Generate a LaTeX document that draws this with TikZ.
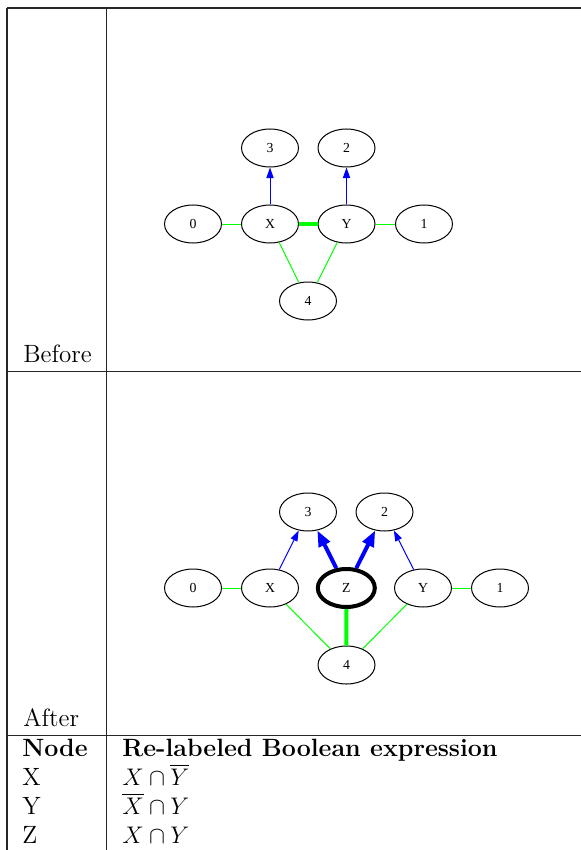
\documentclass[tikz,border=0pt]{standalone}
\usepackage{fontspec}
\newfontfamily\gvfont{Liberation Serif}
\usetikzlibrary{shapes.geometric,arrows.meta}
\begin{document}
\begin{tikzpicture}[x=0.5pt,y=-0.5pt,
  gv/.style={ellipse,draw,line width=0.5pt,minimum width=28.5pt,minimum height=19pt,inner sep=0pt,font=\gvfont\fontsize{6.9}{8}\selectfont},
  gvbold/.style={gv,line width=2pt},
  gl/.style={draw=green,line width=0.5pt},
  gt/.style={draw=green,line width=2pt},
  ba/.style={draw=blue,line width=0.5pt,-{Triangle[length=5.3pt,width=3.6pt]},blue},
  bt/.style={draw=blue,line width=2pt,-{Triangle[length=8pt,width=6pt]},blue},
  tl/.style={line width=0.65pt,draw=black!85},
  txt/.style={anchor=base west,inner sep=0pt,font=\fontsize{12.5}{15}\selectfont}]
\useasboundingbox (0,0) rectangle (581,850);
% table rules
\coordinate (tl0) at (7,8);
\coordinate (tr0) at (581,8);
\coordinate (tl1) at (7,371.5);
\coordinate (tr1) at (581,371.5);
\coordinate (tl2) at (7,735.5);
\coordinate (tr2) at (581,735.5);
\coordinate (lb) at (7,850);
\coordinate (mt) at (106.5,8);
\coordinate (mb) at (106.5,850);
\draw[tl] (tl0) -- (tr0);
\draw[tl] (tl1) -- (tr1);
\draw[tl] (tl2) -- (tr2);
\draw[tl] (tl0) -- (lb);
\draw[tl] (mt) -- (mb);
% texts
\node[txt] (before) at (23,362) {Before};
\node[txt] (after) at (23,726) {After};
\node[txt] (hnode) at (22,756) {\bfseries Node};
\node[txt] (hexpr) at (122,756) {\bfseries Re-labeled Boolean expression};
\node[txt] (rx) at (22,785) {X};
\node[txt] (ex) at (122,785) {$X\cap\overline{Y}$};
\node[txt] (ry) at (22,814) {Y};
\node[txt] (ey) at (122,814) {$\overline{X}\cap Y$};
\node[txt] (rz) at (22,843) {Z};
\node[txt] (ez) at (122,843) {$X\cap Y$};
% before graph
\node[gv] (b3) at (270,148) {3};
\node[gv] (b2) at (346.5,148) {2};
\node[gv] (b0) at (193,224) {0};
\node[gv] (bX) at (270,224) {X};
\node[gv] (bY) at (346.5,224) {Y};
\node[gv] (b1) at (424,224) {1};
\node[gv] (b4) at (308,301) {4};
\draw[gl] (b0) -- (bX);
\draw[gt] (bX) -- (bY);
\draw[gl] (bY) -- (b1);
\draw[ba] (bX) -- (b3);
\draw[ba] (bY) -- (b2);
\draw[gl] (bX) -- (b4);
\draw[gl] (bY) -- (b4);
% after graph
\node[gv] (a3) at (308,512) {3};
\node[gv] (a2) at (384.5,512) {2};
\node[gv] (a0) at (193,588) {0};
\node[gv] (aX) at (270,588) {X};
\node[gvbold] (aZ) at (346.3,588) {Z};
\node[gv] (aY) at (423,588) {Y};
\node[gv] (a1) at (500,588) {1};
\node[gv] (a4) at (346.5,665) {4};
\draw[gl] (a0) -- (aX);
\draw[gl] (aY) -- (a1);
\draw[gl] (aX) -- (a4);
\draw[gl] (aY) -- (a4);
\draw[gt] (aZ) -- (a4);
\draw[ba] (aX) -- (a3);
\draw[ba] (aY) -- (a2);
\draw[bt] (aZ) -- (a3);
\draw[bt] (aZ) -- (a2);
\end{tikzpicture}
\end{document}
